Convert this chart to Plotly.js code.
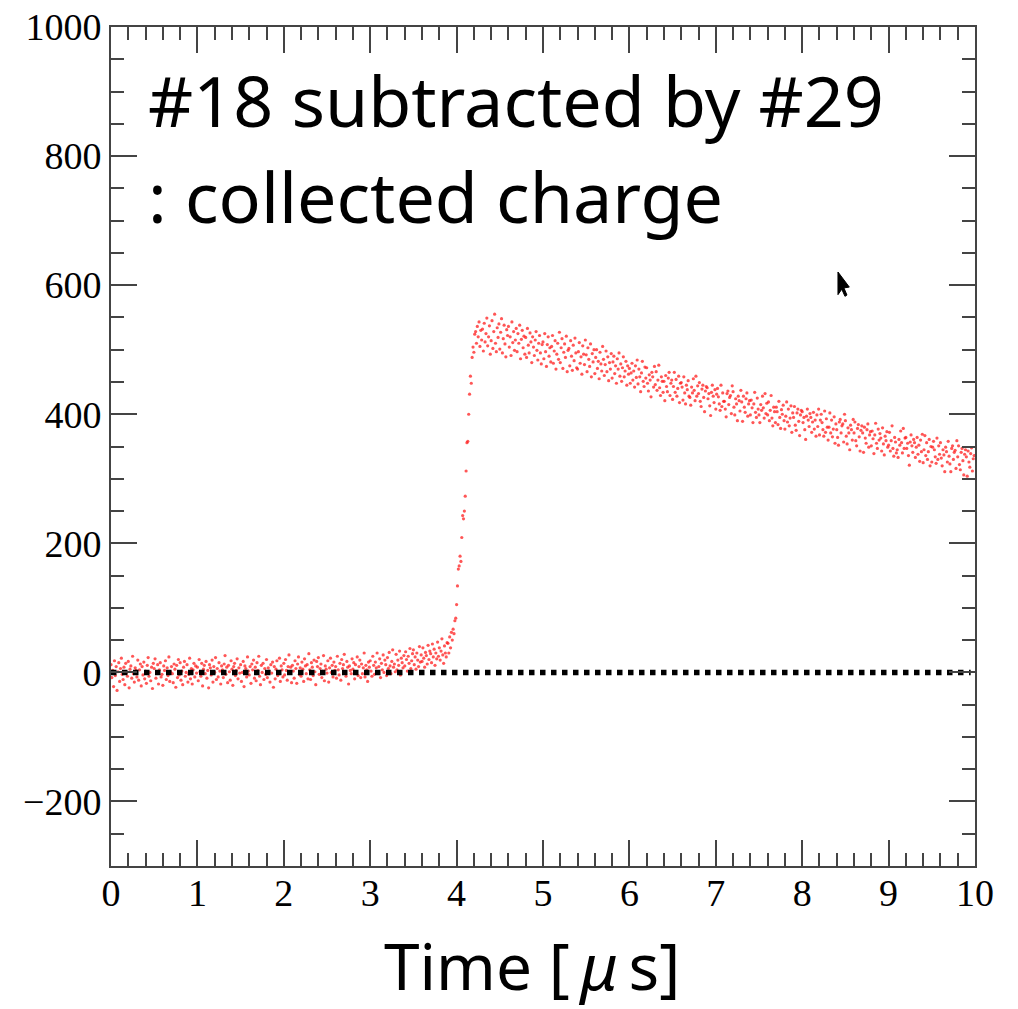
<!DOCTYPE html>
<html>
<head>
<meta charset="utf-8">
<script src="https://cdn.plot.ly/plotly-3.0.1.min.js"></script>
<style>html,body{margin:0;padding:0;background:#fff;}</style>
</head>
<body>
<div id="chart" style="width:1018px;height:1009px;"></div>
<script>
// Sampling of the waveform (time in microseconds)
const timeStart = 0;
const timeStep = 0.01;

// Collected charge, one array per microsecond (100 samples each)
const charge0 = [
 12,-8,3,-22,18,-5,9,-28,1,15,
 -14,6,22,-3,-11,8,-19,14,0,-6,
 17,-24,5,10,-9,25,-2,-15,7,3,
 -7,19,-12,4,13,-21,9,-4,16,-10,
 2,-17,11,23,-6,0,-13,8,-25,14,
 6,21,-9,-1,12,-18,4,15,-7,-3,
 -20,10,3,18,-11,7,-5,24,-14,1,
 9,-2,-16,13,5,-23,11,-8,20,-4,
 15,-12,2,-19,8,17,-6,0,12,-15,
 -3,22,-10,6,-18,4,14,-7,10,-1];
const charge1 = [
 8,-13,20,1,-6,14,-21,5,11,-2,
 17,-9,3,-24,12,7,-4,19,-15,9,
 0,23,-11,6,-7,15,2,-18,10,4,
 -8,13,26,-3,8,-16,11,1,-12,18,
 5,-20,9,14,-5,3,21,-10,7,-1,
 12,-14,0,17,-22,10,6,-7,24,2,
 -4,9,-17,13,4,19,-9,8,-13,15,
 3,25,-6,-19,11,0,14,-11,6,-3,
 20,-8,7,2,-15,12,-1,16,-23,9,
 -10,5,18,-5,1,22,-14,10,4,-7];
const charge2 = [
 14,-4,20,3,-12,9,27,-1,8,-16,
 11,2,-9,18,6,-17,13,24,-3,7,
 -6,16,5,-14,21,10,-2,12,-10,29,
 4,-11,15,8,-5,19,1,-19,17,9,
 23,-3,6,13,-8,2,26,-13,10,5,
 -1,18,-15,7,22,0,11,-7,16,3,
 9,-9,25,4,-4,14,-12,20,6,12,
 28,1,-6,17,8,-18,10,3,-2,21,
 5,15,-10,12,0,24,-5,9,19,-8,
 13,-2,7,30,-7,11,4,-14,16,8];
const charge3 = [
 18,2,-6,25,11,-3,16,7,30,-1,
 9,21,-8,14,4,27,0,19,12,-5,
 23,6,31,10,-2,17,35,8,13,1,
 28,4,19,11,33,-4,22,15,7,26,
 10,32,20,2,25,14,37,6,18,29,
 35,12,24,5,30,19,9,40,16,27,
 17,38,22,8,31,26,13,42,20,33,
 29,15,44,24,36,11,30,21,47,25,
 38,19,33,52,27,14,41,30,24,46,
 45,30,55,38,62,50,67,60,80,84];
const charge4 = [
 105,134,160,165,180,172,209,243,238,250,
 273,312,356,358,400,431,459,448,488,504,
 496,524,528,510,536,520,543,505,530,515,
 532,498,541,512,525,549,506,520,537,493,
 514,545,502,528,555,510,497,534,519,540,
 501,527,548,495,517,538,509,489,531,522,
 536,504,520,491,543,511,528,499,515,533,
 497,525,510,538,486,516,530,503,521,493,
 519,488,533,507,495,526,512,480,520,504,
 491,515,528,499,484,510,522,495,478,508];
const charge5 = [
 512,486,525,497,474,508,520,490,503,481,
 505,522,479,498,514,470,493,510,485,527,
 480,503,517,471,496,509,488,521,466,499,
 502,475,514,490,468,507,483,518,495,472,
 470,497,511,479,489,462,506,493,477,515,
 492,466,503,485,474,509,458,494,481,500,
 463,488,500,471,482,455,496,478,467,505,
 485,460,477,498,466,489,452,480,470,494,
 456,481,490,463,475,448,486,470,495,459,
 478,451,472,489,458,467,482,445,475,462];
const charge6 = [
 471,448,464,479,453,467,442,475,457,484,
 447,470,458,435,464,482,451,443,473,456,
 472,448,436,461,453,427,465,458,442,474,
 446,466,437,453,476,441,429,458,451,434,
 451,421,460,443,435,456,465,429,448,453,
 423,443,465,434,454,428,440,459,418,448,
 449,442,422,458,433,416,445,438,452,428,
 426,414,442,433,455,437,421,459,428,444,
 432,449,420,412,439,445,426,404,436,443,
 441,424,432,413,398,434,445,428,418,438];
const charge7 = [
 408,431,440,427,416,406,445,412,433,420,
 420,408,396,432,436,415,426,429,401,444,
 435,411,399,424,416,390,428,421,405,437,
 419,389,428,411,403,424,433,397,416,421,
 399,422,410,387,416,434,403,395,425,408,
 399,387,415,406,428,410,394,432,401,417,
 399,419,390,406,429,394,382,411,404,387,
 411,404,384,420,395,378,407,400,414,390,
 377,397,419,388,408,382,394,413,372,402,
 395,412,383,375,402,408,389,367,399,406];
const charge8 = [
 404,387,395,376,361,397,408,391,381,401,
 395,372,388,403,377,391,366,399,381,408,
 368,391,400,387,376,366,405,372,393,380,
 360,380,402,371,391,365,377,396,355,385,
 376,364,352,388,392,371,382,385,357,400,
 390,366,354,379,371,345,383,376,360,392,
 371,388,359,351,378,384,365,343,375,382,
 371,341,380,363,355,376,385,349,368,373,
 351,374,362,339,368,386,355,347,377,360,
 370,363,343,379,354,337,366,359,373,349];
const charge9 = [
 352,372,343,359,382,347,335,364,357,340,
 345,333,361,352,374,356,340,378,347,363,
 364,347,355,336,321,357,368,351,341,361,
 356,333,349,364,338,352,327,360,342,369,
 325,345,367,336,356,330,342,361,320,350,
 326,349,358,345,334,324,363,330,351,338,
 356,332,320,345,337,311,349,342,326,358,
 335,323,311,347,351,330,341,344,316,359,
 334,351,322,314,341,347,328,306,338,345,
 334,304,343,326,318,339,348,312,331,336];

// Zero reference line (dotted)
const zeroLineX = [0, 9.95];
const zeroLineY = [0, 0];

// Axis tick values
const xTicks = [0,1,2,3,4,5,6,7,8,9,10];
const yTicks = [-200,0,200,400,600,800,1000];

const chargeAll = [].concat(charge0, charge1, charge2, charge3, charge4,
                            charge5, charge6, charge7, charge8, charge9);

const axisColor = '#444';
const tickFont = {family: 'Liberation Serif, Times New Roman, serif', size: 38, color: '#000'};

const traces = [
  {
    type: 'scatter', mode: 'markers',
    x0: timeStart, dx: timeStep, y: chargeAll,
    marker: {color: 'rgba(255,30,30,0.75)', size: 3.2},
    hoverinfo: 'skip', showlegend: false
  },
  {
    type: 'scatter', mode: 'lines',
    x: zeroLineX, y: zeroLineY,
    line: {color: '#000', width: 5.5, dash: 'dot'},
    hoverinfo: 'skip', showlegend: false
  }
];

const layout = {
  width: 1018, height: 1009,
  margin: {l: 111, r: 43, t: 27, b: 143},
  paper_bgcolor: '#fff', plot_bgcolor: '#fff',
  showlegend: false,
  xaxis: {
    range: [0, 10], tickvals: xTicks, ticktext: xTicks.map(String),
    ticks: 'inside', ticklen: 26, tickwidth: 2, tickcolor: axisColor,
    showline: true, linecolor: axisColor, linewidth: 2, mirror: 'ticks',
    showgrid: false, zeroline: false, tickfont: tickFont,
    ticklabelstandoff: -8,
    minor: {dtick: 0.2, tick0: 0, ticks: 'inside', ticklen: 13, tickwidth: 2, tickcolor: axisColor, showgrid: false}
  },
  yaxis: {
    range: [-300, 1000], tickvals: yTicks, ticktext: yTicks.map(v => v < 0 ? '\u2212' + Math.abs(v) : String(v)),
    ticks: 'inside', ticklen: 26, tickwidth: 2, tickcolor: axisColor,
    showline: true, linecolor: axisColor, linewidth: 2, mirror: 'ticks',
    showgrid: false, zeroline: false, tickfont: tickFont,
    minor: {dtick: 50, tick0: 0, ticks: 'inside', ticklen: 13, tickwidth: 2, tickcolor: axisColor, showgrid: false}
  },
  annotations: [
    {text: '#18 subtracted by #29', xref: 'paper', yref: 'paper', x: 0.0405, y: 0.913,
     xanchor: 'left', yanchor: 'middle', showarrow: false,
     font: {family: 'Noto Sans, sans-serif', size: 70, color: '#000'}},
    {text: ': collected charge', xref: 'paper', yref: 'paper', x: 0.0405, y: 0.799,
     xanchor: 'left', yanchor: 'middle', showarrow: false,
     font: {family: 'Noto Sans, sans-serif', size: 70, color: '#000'}},
    {text: 'Time [\u2009<i>\u03bc</i>\u2009s]', xref: 'paper', yref: 'paper', x: 0.487, y: -0.119,
     xanchor: 'center', yanchor: 'middle', showarrow: false,
     font: {family: 'Noto Sans, sans-serif', size: 64, color: '#000'}}
  ],
  shapes: [
    {type: 'path', xref: 'paper', yref: 'paper', layer: 'above',
     path: 'M 0.8414 0.708 L 0.8414 0.681 L 0.8458 0.6875 L 0.8495 0.679 L 0.8518 0.6805 L 0.8483 0.689 L 0.8545 0.690 Z',
     fillcolor: '#000', line: {color: '#000', width: 1}}
  ]
};

Plotly.newPlot('chart', traces, layout, {displayModeBar: false, staticPlot: true});
</script>
</body>
</html>
